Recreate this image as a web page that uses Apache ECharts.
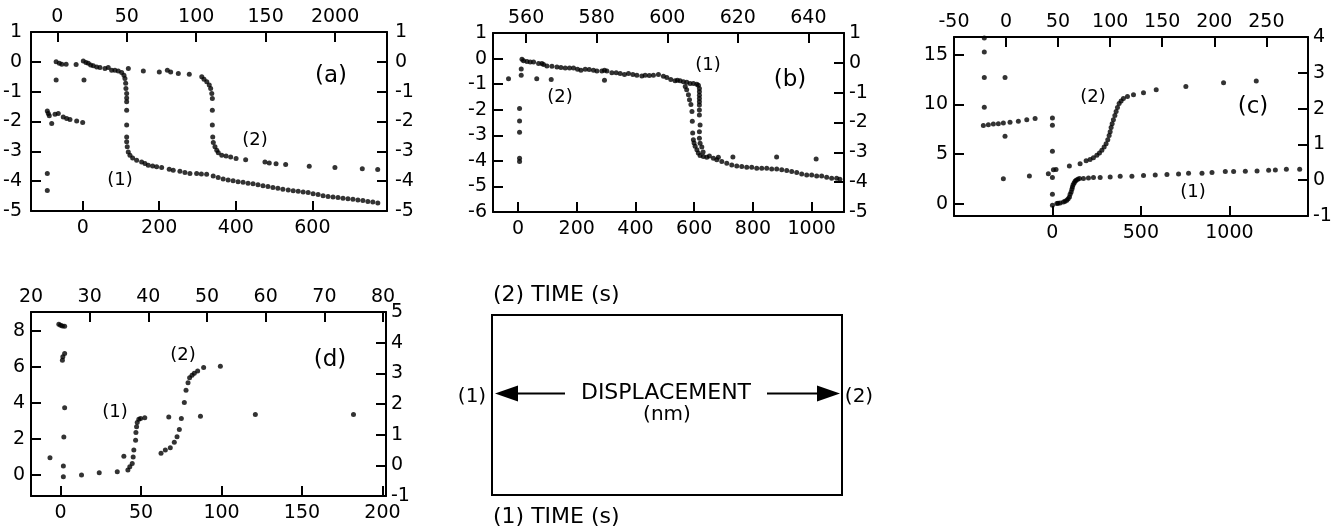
<!DOCTYPE html>
<html><head><meta charset="utf-8">
<script src="https://cdn.jsdelivr.net/npm/echarts@6/dist/echarts.min.js"></script>
<style>html,body{margin:0;padding:0;background:#fff}#c{width:1343px;height:529px}</style>
</head><body><div id="c"></div><script>
// ---------------- DATA ----------------
// Panel (a)
const a1 = [[-92.4,-1.65],[-89.8,-1.73],[-87.2,-1.81],[-80.9,-2.07],[-72.3,-1.76],[-63.7,-1.73],[-50.7,-1.85],[-41.8,-1.9],[-33.2,-1.93],[-15.7,-1.98],[0,-2.03],
[-92.4,-3.74],[-92.4,-4.31],[3.4,-0.61],
[1.6,0.03],[8.6,-0.02],[14.6,-0.05],[20.9,-0.11],[27.7,-0.13],[36.6,-0.17],[45.2,-0.19],[58.2,-0.22],[66.8,-0.19],
[75.7,-0.28],[84.3,-0.28],[93,-0.31],[101.8,-0.36],[107.8,-0.45],[110.4,-0.56],[112.3,-0.72],[113,-0.89],[114.9,-1.06],[114.9,-1.21],[114.9,-1.34],[114.9,-1.62],[114.9,-2.12],[114.9,-2.52],[114.9,-2.68],[116.4,-2.85],[119.1,-3.02],[123.5,-3.13],[130.5,-3.22],[141,-3.3],[154,-3.36],[162.7,-3.41],[171.3,-3.47],[182.8,-3.49],[193.2,-3.52],[206.3,-3.54],[226.1,-3.6],[236.6,-3.63],[254,-3.67],[267.1,-3.71],[280.2,-3.74],[297.7,-3.74],[310,-3.76],[323.8,-3.77],[341,-3.83],[354,-3.88],[367,-3.93],[380,-3.96],[393,-3.99],[406,-4.02],[419,-4.04],[432,-4.07],[445,-4.09],[458,-4.12],[471,-4.15],[484,-4.18],[497,-4.21],[510,-4.24],[523,-4.27],[537,-4.3],[550,-4.32],[563,-4.34],[576,-4.36],[589,-4.38],[602,-4.42],[615,-4.45],[628,-4.49],[641,-4.51],[654,-4.53],[667,-4.55],[680,-4.57],[693,-4.59],[706,-4.61],[719,-4.63],[732,-4.65],[745,-4.68],[758,-4.7],[771,-4.73]];
const a2 = [[-0.9,0],[1.4,-0.05],[3.2,-0.08],[6.3,-0.08],[13.5,-0.09],[-0.9,-0.61],
[51.1,-0.22],[61.9,-0.31],[73.4,-0.34],[79.2,-0.28],[81.6,-0.34],[87.1,-0.39],[95,-0.42],[104,-0.5],[105.6,-0.58],[107.6,-0.67],[109.4,-0.78],[110.4,-0.89],[111.2,-1.06],[111.6,-1.23],[111.6,-1.62],[111.6,-2.12],[111.9,-2.52],[112.3,-2.7],[113.5,-2.85],[114.8,-2.96],[115.9,-3.05],[118.4,-3.13],[121.5,-3.16],[124.8,-3.19],[128.7,-3.24],[135.6,-3.28],[149.5,-3.36],[152.6,-3.39],[157.5,-3.42],[164.4,-3.44],[181.4,-3.5],[199.9,-3.54],[219.6,-3.58],[230.7,-3.61]];
// Panel (b)
const b1 = [[5.4,-1.95],[5.4,-2.44],[5.4,-2.88],[5.4,-3.9],[5.4,-4.03],
[13.6,-0.03],[19,-0.09],[30.6,-0.11],[41.8,-0.13],[53.1,-0.13],[70.1,-0.19],[81.6,-0.19],[87.1,-0.23],[98.6,-0.29],[115.6,-0.3],[132.7,-0.33],[146.3,-0.35],[160.9,-0.37],[175.5,-0.37],[189.1,-0.37],[202.7,-0.42],[214.3,-0.46],[228.9,-0.42],[242.5,-0.43],[257.1,-0.46],[268.7,-0.49],[285.7,-0.49],[294.6,-0.46],[302.7,-0.49],[319.7,-0.55],[334.4,-0.55],[348,-0.58],[362.6,-0.62],[376.2,-0.58],[391.2,-0.62],[404.8,-0.65],[421.8,-0.68],[433,-0.65],[447,-0.66],[461.2,-0.65],[478.2,-0.62],[495.2,-0.69],[506.8,-0.74],[520.4,-0.82],[535,-0.87],[542.9,-0.85],[552,-0.87],[563.3,-0.91],[574.8,-0.93],[586,-0.97],[597.3,-0.97],[608.8,-1.0],[614.3,-1.04],
[617.7,-1.17],[617.7,-1.3],[617.7,-1.43],[617.7,-1.56],[617.7,-1.69],[617.7,-1.82],[617.7,-2.01],[617.7,-2.21],[620,-2.6],[617.7,-2.86],[617.7,-3.12],[620,-3.31],[625.9,-3.46],[630.3,-3.65],
[631.3,-3.83],[642.9,-3.86],[651.7,-3.81],[665.3,-3.9],[676.9,-3.96],[682.3,-3.86],[693.9,-4.03],[710.9,-4.09],[727.9,-4.16],[744.9,-4.2],[761.9,-4.22],[778.9,-4.25],[795.9,-4.25],[812.9,-4.29],[829.9,-4.29],[846.9,-4.29],[863.9,-4.32],[880.9,-4.32],[898,-4.35],[915,-4.38],[932,-4.42],[949,-4.46],[966,-4.51],[983,-4.55],[1000,-4.55],[1017,-4.59],[1034,-4.59],[1051,-4.64],[1068,-4.68],[1085,-4.68],[1096,-4.72]];
const b2 = [[555,-0.53],[558.6,-0.21],[558.6,-0.42],[563,-0.53],[567.1,-0.56],[582.2,-0.58],
[605.1,-0.79],[605.5,-0.9],[606,-1.07],[606.3,-1.24],[606.7,-1.4],[607,-1.63],[607.1,-1.96],[607.2,-2.35],[607.4,-2.58],[607.6,-2.69],[607.9,-2.8],[608.4,-2.91],[608.8,-3.02],[609.3,-3.11],
[618.6,-3.16],[631,-3.16],[642.2,-3.22]];
// Panel (c)
const c1 = [[0,8.62],[0,7.89],[0,5.27],[0,2.62],[0,0.94],[0,-0.17],[5.7,3.42],
[24.9,0],[32,0.03],[43.6,0.06],[62.2,0.16],[72,0.23],[81.4,0.33],[89,0.48],[96.2,0.66],[100,0.94],[105.8,1.17],[110,1.44],[113.1,1.67],[117,1.89],[122.7,2.07],[128,2.25],[134,2.35],[143,2.45],[152.7,2.52],[175.3,2.52],[203.6,2.58],[231.9,2.62],[269.8,2.62],[326.4,2.68],[382.9,2.75],[449.1,2.75],[514.7,2.82],[580.9,2.88],[647.1,2.92],[712.7,2.98],[769.2,3.05],[845,3.05],[901.6,3.12],[976.8,3.22],[1023.8,3.22],[1089.9,3.25],[1156.1,3.28],[1221.7,3.35],[1259.6,3.38],[1321.8,3.45],[1397,3.45]];
const c2 = [[-21.8,1.53],[-17,1.55],[-12.2,1.57],[-7.4,1.58],[-2.6,1.6],[3.8,1.62],[11.8,1.65],[19.9,1.69],[27.9,1.72],
[-20.9,3.97],[-20.9,3.58],[-20.9,2.87],[-20.9,2.04],[-1,2.87],[-1,1.23],
[-2.6,0.04],[22.4,0.12],[40.6,0.18],[48,0.3],
[60.8,0.4],[71.1,0.46],[76.9,0.54],[80.7,0.58],[83.9,0.63],[87.2,0.7],[89.7,0.76],[92,0.84],[94.2,0.93],[96.1,1.02],[97.7,1.13],[99,1.25],[100,1.35],[100.9,1.47],[101.9,1.58],[103.1,1.69],[104.5,1.81],[105.7,1.92],[107,2.03],[108.6,2.14],[110.5,2.21],[112.7,2.28],[116.6,2.34],[122.4,2.39],[132,2.44],[144.2,2.53],[172.7,2.62],[208.9,2.72],[240.3,2.77]];
// Panel (d)
const d1 = [[-1.1,8.37],[0,8.31],[1.1,8.28],[2.5,8.26],[1.1,6.37],[1.4,6.56],[2.5,6.75],[2.5,3.73],[2,2.12],[1.7,0.5],[1.7,-0.09],
[-6.6,0.96],[13,0],[24,0.13],[35.2,0.18],[39.3,1.05],[41.8,0.28],[43,0.46],[44.5,0.65],[45.1,1.01],[45.5,1.39],[46.6,1.94],[46.8,2.37],[47.2,2.68],[47.6,2.92],[48.6,3.1],[49.7,3.14],[52.3,3.18],[67.2,3.23],[86.9,3.27],[121,3.36],[182,3.36]];
const d2 = [[42.16,0.39],[42.89,0.5],[43.74,0.57],[44.42,0.75],[44.89,0.93],[45.28,1.17],[45.62,1.53],[46.13,2.05],[46.42,2.45],[46.76,2.69],[47.03,2.86],[47.44,2.94],[47.83,3.0],[48.4,3.08],[49.42,3.19],[52.27,3.23]];

// Tick values and labels
const aBottomTicks = [0,200,400,600];
const aTopTicks = [0,50,100,150,200];
const aTopLabels = ['0','50','100','150','2000'];
const aLeftTicks = [-5,-4,-3,-2,-1,0,1];
const aRightTicks = [-5,-4,-3,-2,-1,0,1];
const bBottomTicks = [0,200,400,600,800,1000];
const bTopTicks = [560,580,600,620,640];
const bLeftTicks = [-6,-5,-4,-3,-2,-1,0,1];
const bRightTicks = [-5,-4,-3,-2,-1,0,1];
const cBottomTicks = [0,500,1000];
const cTopTicks = [-50,0,50,100,150,200,250];
const cLeftTicks = [0,5,10,15];
const cRightTicks = [-1,0,1,2,3,4];
const dBottomTicks = [0,50,100,150,200];
const dTopTicks = [20,30,40,50,60,70,80];
const dLeftTicks = [0,2,4,6,8];
const dRightTicks = [-1,0,1,2,3,4,5];

// Text
const panelNames = ['(a)','(b)','(c)','(d)'];
const seriesNames = ['(1)','(2)'];
const legendTop = '(2) TIME (s)';
const legendBottom = '(1) TIME (s)';
const legendMid = 'DISPLACEMENT';
const legendUnit = '(nm)';

// ---------------- CHART ----------------
const FONT = '"DejaVu Sans", "Liberation Sans", Arial, sans-serif';
const INK = '#000';

function mkAxis(pos, gi, min, max, ticks, labels, margin) {
  const lab = labels || ticks.map(String);
  const m = margin != null ? margin : (pos === 'left' ? 6 : pos === 'right' ? 5 : pos === 'bottom' ? 8 : 5);
  return {
    type: 'value', gridIndex: gi, position: pos, min: min, max: max,
    axisLine: { show: true, onZero: false, lineStyle: { color: INK, width: 2 } },
    axisTick: { show: true, inside: true, length: 10, lineStyle: { color: INK, width: 2 }, customValues: ticks },
    axisLabel: { show: true, customValues: ticks, margin: m, color: INK, fontSize: 19, fontFamily: FONT,
      formatter: function (v) { const i = ticks.findIndex(t => Math.abs(t - v) < 1e-9); return i >= 0 ? lab[i] : ''; } },
    splitLine: { show: false }, minorTick: { show: false }
  };
}

const xAxis = [
  mkAxis('bottom',0,-135,795,aBottomTicks), mkAxis('top',0,-19,237.4,aTopTicks,aTopLabels),
  mkAxis('bottom',1,-85,1110,bBottomTicks), mkAxis('top',1,550.6,650.1,bTopTicks),
  mkAxis('bottom',2,-556,1444,cBottomTicks), mkAxis('top',2,-50,290,cTopTicks),
  mkAxis('bottom',3,-18.4,202.2,dBottomTicks), mkAxis('top',3,20,80.5,dTopTicks)
];
const yAxis = [
  mkAxis('left',0,-5,1,aLeftTicks,null,9), mkAxis('right',0,-5,1,aRightTicks,null,8),
  mkAxis('left',1,-6,1,bLeftTicks), mkAxis('right',1,-5,1,bRightTicks),
  mkAxis('left',2,-1.25,16.78,cLeftTicks), mkAxis('right',2,-1,4,cRightTicks),
  mkAxis('left',3,-1.16,9.05,dLeftTicks), mkAxis('right',3,-1,5,dRightTicks)
];

const sets = [a1,a2,b1,b2,c1,c2,d1,d2];
const series = sets.map((d, i) => ({
  type: 'scatter', xAxisIndex: i, yAxisIndex: i, data: d,
  symbol: 'circle', symbolSize: 5, itemStyle: { color: INK }, silent: true, animation: false
}));

function txt(s, x, y, size, align) {
  return { type: 'text', silent: true, style: { text: s, x: x, y: y, fill: INK, font: size + 'px ' + FONT,
    textAlign: align || 'center', textVerticalAlign: 'middle', verticalAlign: 'middle' } };
}

const graphic = [
  txt(panelNames[0], 331, 76, 23), txt(seriesNames[1], 255, 140, 18), txt(seriesNames[0], 120, 180, 18),
  txt(panelNames[1], 790, 80, 23), txt(seriesNames[0], 708, 65, 18), txt(seriesNames[1], 560, 97, 18),
  txt(panelNames[2], 1253, 107, 23), txt(seriesNames[1], 1093, 97, 18), txt(seriesNames[0], 1193, 192, 18),
  txt(panelNames[3], 330, 360, 23), txt(seriesNames[1], 183, 355, 18), txt(seriesNames[0], 115, 412, 18),
  // legend box
  { type: 'rect', silent: true, shape: { x: 492, y: 315, width: 350, height: 180 }, style: { fill: 'none', stroke: INK, lineWidth: 2 } },
  txt(legendTop, 493, 295, 22, 'left'),
  txt(legendBottom, 493, 517, 22, 'left'),
  txt(seriesNames[0], 472, 397, 20), txt(seriesNames[1], 859, 397, 20),
  txt(legendMid, 666, 393, 22), txt(legendUnit, 667, 415, 20),
  { type: 'line', silent: true, shape: { x1: 514, y1: 393.5, x2: 565, y2: 393.5 }, style: { stroke: INK, lineWidth: 2 } },
  { type: 'polygon', silent: true, shape: { points: [[495, 393.5], [518, 385.5], [518, 401.5]] }, style: { fill: INK } },
  { type: 'line', silent: true, shape: { x1: 767, y1: 393.5, x2: 820, y2: 393.5 }, style: { stroke: INK, lineWidth: 2 } },
  { type: 'polygon', silent: true, shape: { points: [[840, 393.5], [817, 385.5], [817, 401.5]] }, style: { fill: INK } }
];

const chart = echarts.init(document.getElementById('c'), null, { renderer: 'canvas' });
chart.setOption({
  backgroundColor: '#fff',
  animation: false,
  textStyle: { fontFamily: FONT },
  grid: [
    { left: 31, top: 32, width: 356, height: 179, containLabel: false, outerBoundsMode: 'none' },
    { left: 493, top: 33, width: 351, height: 179, containLabel: false, outerBoundsMode: 'none' },
    { left: 954, top: 37, width: 354, height: 179, containLabel: false, outerBoundsMode: 'none' },
    { left: 31, top: 312, width: 355, height: 184, containLabel: false, outerBoundsMode: 'none' }
  ],
  xAxis: xAxis, yAxis: yAxis, series: series, graphic: graphic
});
</script></body></html>
